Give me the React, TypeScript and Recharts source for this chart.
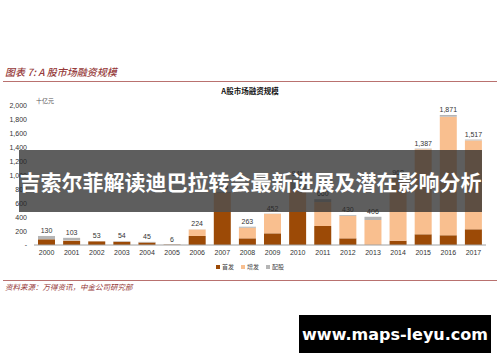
import React from 'react';
import { BarChart, Bar, XAxis, YAxis, LabelList } from 'recharts';

const years = ['2000', '2001', '2002', '2003', '2004', '2005', '2006', '2007', '2008', '2009', '2010', '2011', '2012', '2013', '2014', '2015', '2016', '2017'];
const ipo = [82, 60, 52, 47, 36, 5, 130, 480, 96, 168, 475, 273, 96, 0, 62, 154, 140, 226];
const placement = [0, 5, 0, 0, 0, 0, 92, 270, 152, 280, 325, 345, 322, 360, 890, 1224, 1706, 1279];
const rights = [48, 38, 1, 7, 9, 1, 2, 15, 15, 4, 145, 42, 12, 46, 16, 9, 25, 12];
const yTicks = [0, 200, 400, 600, 800, 1000, 1200, 1400, 1600, 1800, 2000];
const seriesNames = ['首发', '增发', '配股'];
const seriesColors = ['#9C4A06', '#F9BF8F', '#B5B5B5'];

const data = years.map((y, i) => ({
  year: y,
  ipo: ipo[i],
  placement: placement[i],
  rights: rights[i],
  total: ipo[i] + placement[i] + rights[i],
}));

const numFont = '"Liberation Sans", Arial, sans-serif';
const cjkFont = '"Noto Sans CJK SC", sans-serif';
const lineColor = '#B9716F';

export default function App() {
  return (
    <div style={{ position: 'absolute', left: 0, top: 0, width: 500, height: 362, background: '#fff', overflow: 'hidden' }}>
      <div style={{ position: 'absolute', left: 5, top: 66, fontFamily: cjkFont, fontStyle: 'italic', fontSize: 10, lineHeight: '12px', color: '#963A3A', whiteSpace: 'nowrap', fontWeight: 500 }}>
        图表 7: A 股市场融资规模
      </div>
      <div style={{ position: 'absolute', left: 3, top: 81, width: 494, height: 1, background: lineColor }} />
      <div style={{ position: 'absolute', left: 0, width: 500, top: 86, textAlign: 'center', fontFamily: cjkFont, fontWeight: 700, fontSize: 7.5, lineHeight: '10px', color: '#111' }}>
        A股市场融资规模
      </div>
      <div style={{ position: 'absolute', left: 36, top: 97, fontFamily: cjkFont, fontSize: 6, lineHeight: '8px', color: '#555', whiteSpace: 'nowrap' }}>
        十亿元
      </div>
      <div style={{ position: 'absolute', left: 0, top: 0 }}>
        <BarChart width={500} height={362} data={data} margin={{ top: 106, right: 14, bottom: 97, left: 0 }} barCategoryGap="16%">
          <XAxis
            dataKey="year"
            height={20}
            axisLine={{ stroke: '#A0A0A0' }}
            tickLine={false}
            tickSize={3}
            tickMargin={2}
            interval={0}
            tick={{ fontSize: 7, fill: '#333', fontFamily: numFont }}
          />
          <YAxis
            width={34}
            domain={[0, 2000]}
            ticks={yTicks}
            interval={0}
            axisLine={false}
            tickLine={false}
            tickMargin={1}
            tickFormatter={(v: number) => (v === 0 ? '-' : v.toLocaleString('en-US'))}
            tick={{ fontSize: 7, fill: '#333', fontFamily: numFont }}
          />
          <Bar dataKey="ipo" stackId="a" fill={seriesColors[0]} isAnimationActive={false} />
          <Bar dataKey="placement" stackId="a" fill={seriesColors[1]} isAnimationActive={false} />
          <Bar dataKey="rights" stackId="a" fill={seriesColors[2]} isAnimationActive={false} minPointSize={0}>
            <LabelList
              dataKey="total"
              position="top"
              offset={3}
              formatter={(v: number) => v.toLocaleString('en-US')}
              style={{ fontSize: 7, fill: '#333', fontFamily: numFont }}
            />
          </Bar>
        </BarChart>
      </div>
      <div style={{ position: 'absolute', left: 216, top: 263, display: 'flex', fontFamily: cjkFont, fontSize: 6, lineHeight: '8px', color: '#444', whiteSpace: 'nowrap' }}>
        {seriesNames.map((n, i) => (
          <div key={n} style={{ display: 'flex', alignItems: 'center', marginRight: 7 }}>
            <span style={{ display: 'inline-block', width: 4, height: 4, background: seriesColors[i], marginRight: 2 }} />
            <span>{n}</span>
          </div>
        ))}
      </div>
      <div style={{ position: 'absolute', left: 3, top: 280, width: 494, height: 1, background: lineColor }} />
      <div style={{ position: 'absolute', left: 5, top: 282, fontFamily: cjkFont, fontStyle: 'italic', fontSize: 7.5, lineHeight: '10px', color: '#963A3A', whiteSpace: 'nowrap' }}>
        资料来源：万得资讯，中金公司研究部
      </div>
      <div style={{ position: 'absolute', left: 19, top: 150, width: 463, height: 62, background: 'rgba(40,40,40,0.75)' }} />
      <div style={{ position: 'absolute', left: 19, top: 150, width: 463, height: 62, display: 'flex', alignItems: 'center', justifyContent: 'center', fontFamily: cjkFont, fontWeight: 700, fontSize: 21, color: '#fff', whiteSpace: 'nowrap' }}>
        吉索尔菲解读迪巴拉转会最新进展及潜在影响分析
      </div>
      <div style={{ position: 'absolute', left: 299, top: 315, width: 192, height: 38, background: '#000', display: 'flex', alignItems: 'center', justifyContent: 'center', fontFamily: '"DejaVu Sans", sans-serif', fontWeight: 700, fontSize: 16, color: '#fff', whiteSpace: 'nowrap' }}>
        www.maps-leyu.com
      </div>
    </div>
  );
}
